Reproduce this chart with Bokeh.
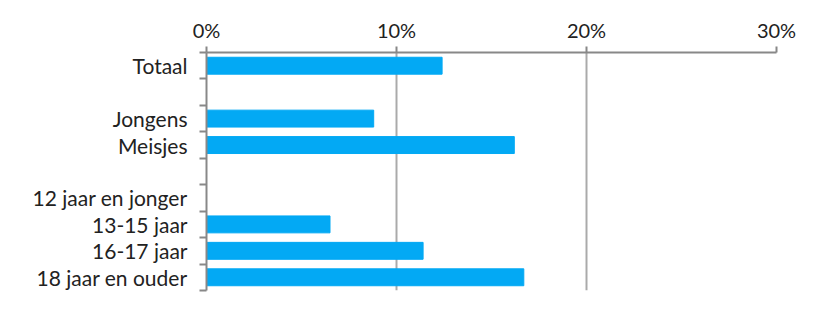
from bokeh.plotting import figure
from bokeh.models import Range1d, FixedTicker
from bokeh.embed import file_html
from bokeh.resources import INLINE

categories = ["Totaal", "", "Jongens", "Meisjes", "", "12 jaar en jonger",
              "13-15 jaar", "16-17 jaar", "18 jaar en ouder"]
values = [12.4, None, 8.8, 16.2, None, None, 6.5, 11.4, 16.7]
x_ticks = [0, 10, 20, 30]
x_tick_labels = ["0%", "10%", "20%", "30%"]

ys = [i + 0.5 for i, v in enumerate(values) if v is not None]
vs = [v for v in values if v is not None]

p = figure(width=823, height=317, output_backend="svg", toolbar_location=None,
           x_range=Range1d(0, 30), y_range=Range1d(len(categories), 0),
           x_axis_location="above",
           min_border_left=206, min_border_right=47, min_border_top=52,
           min_border_bottom=27)
p.outline_line_color = None
p.hbar(y=ys, right=vs, left=0, height=0.64, color="#03A9F4")

font = "Lato"
# x axis
xa = p.xaxis[0]
xa.ticker = FixedTicker(ticks=x_ticks, minor_ticks=[])
xa.major_label_overrides = {t: l for t, l in zip(x_ticks, x_tick_labels)}
xa.axis_line_color = "#888888"
xa.axis_line_width = 2
xa.major_tick_line_color = "#888888"
xa.major_tick_line_width = 2
xa.major_tick_out = 6
xa.major_tick_in = 0
xa.major_label_standoff = 5
xa.major_label_text_font = font
xa.major_label_text_font_size = "20px"
xa.major_label_text_color = "#222222"

# y axis
ya = p.yaxis[0]
ya.ticker = FixedTicker(ticks=[i + 0.5 for i in range(len(categories))],
                        minor_ticks=list(range(len(categories) + 1)))
ya.major_label_overrides = {i + 0.5: c for i, c in enumerate(categories)}
ya.axis_line_color = "#888888"
ya.axis_line_width = 2
ya.major_tick_line_color = None
ya.major_tick_out = 0
ya.major_tick_in = 0
ya.minor_tick_line_color = "#888888"
ya.minor_tick_line_width = 2
ya.minor_tick_out = 7
ya.minor_tick_in = 0
ya.major_label_standoff = 12
ya.major_label_text_font = font
ya.major_label_text_font_size = "21px"
ya.major_label_text_color = "#222222"

p.xgrid.ticker = FixedTicker(ticks=x_ticks)
p.xgrid.grid_line_color = "#aaaaaa"
p.xgrid.grid_line_width = 2
p.ygrid.grid_line_color = None

open("out.html", "w").write(file_html(p, INLINE))
